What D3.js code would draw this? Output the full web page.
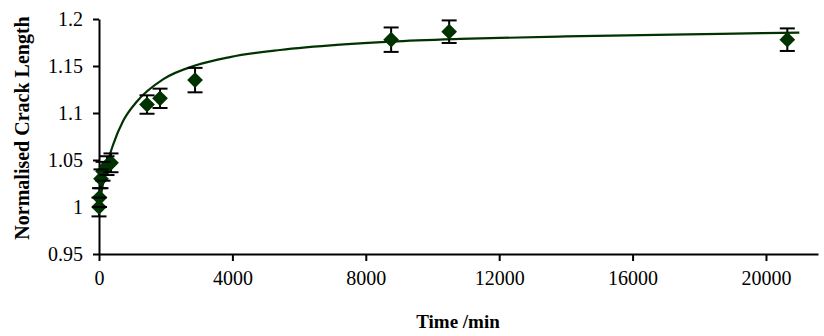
<!DOCTYPE html>
<html>
<head>
<meta charset="utf-8">
<script src="https://cdn.jsdelivr.net/npm/d3@7"></script>
<style>
  body { margin: 0; background: #fff; }
  text { font-family: "Liberation Serif", "Times New Roman", serif; fill: #000; }
</style>
</head>
<body>
<div id="chart"></div>
<script>
// measured points (time in minutes, normalised crack length, +/- error)
var times = [0, 15, 60, 120, 240, 360, 1440, 1830, 2880, 8760, 10500, 20640];
var lengths = [1.0, 1.01, 1.03, 1.038, 1.044, 1.047, 1.109, 1.1156, 1.135, 1.178, 1.1865, 1.178];
var errors = [0.01, 0.01, 0.01, 0.01, 0.01, 0.01, 0.0098, 0.0103, 0.013, 0.013, 0.012, 0.012];

// fitted trend line
var fitTimes = [0, 100, 280, 430, 730, 1130, 1930, 2930, 3930, 5430, 7230, 8760, 10830, 14000, 18630, 21000];
var fitLengths = [1.0, 1.021, 1.05, 1.067, 1.092, 1.112, 1.136, 1.151, 1.1595, 1.167, 1.1727, 1.176, 1.1788, 1.1815, 1.1842, 1.1855];

var xTicks = [0, 4000, 8000, 12000, 16000, 20000];
var yTicks = [0.95, 1, 1.05, 1.1, 1.15, 1.2];

var width = 824, height = 336;
var green = "#003300";

var svg = d3.select('#chart')
      .append('svg')
      .attr('width', width)
      .attr('height', height);

var x = d3.scaleLinear().domain([0, 21560]).range([99, 818]);
var y = d3.scaleLinear().domain([0.95, 1.2]).range([254, 19]);

//axes
var xAxis = svg.append('g')
      .attr('transform', 'translate(0,' + y(0.95) + ')')
      .call(d3.axisBottom(x).tickValues(xTicks).tickSize(7).tickSizeOuter(0).tickPadding(10)
            .tickFormat(d3.format('d')));
var yAxis = svg.append('g')
      .attr('transform', 'translate(' + x(0) + ',0)')
      .call(d3.axisLeft(y).tickValues(yTicks).tickSize(6).tickSizeOuter(0).tickPadding(10)
            .tickFormat(function (d) { return String(+d.toFixed(2)); }));

[xAxis, yAxis].forEach(function (ax) {
      ax.attr('font-family', null).attr('font-size', null);
      ax.select('.domain').attr('stroke', '#000').attr('stroke-width', 2);
      ax.selectAll('.tick line').attr('stroke', '#000').attr('stroke-width', 2);
      ax.selectAll('.tick text')
            .style('font-family', '"Liberation Serif", "Times New Roman", serif')
            .style('font-size', '20px')
            .attr('fill', '#000');
});

//axis titles
svg.append('text')
      .attr('x', 458)
      .attr('y', 328)
      .attr('text-anchor', 'middle')
      .style('font-size', '19px')
      .style('font-weight', 'bold')
      .text('Time /min');
svg.append('text')
      .attr('transform', 'translate(29,128) rotate(-90)')
      .attr('text-anchor', 'middle')
      .style('font-size', '20px')
      .style('font-weight', 'bold')
      .text('Normalised Crack Length');

//trend line
var fit = fitTimes.map(function (t, i) { return [t, fitLengths[i]]; });
svg.append('path')
      .datum(fit)
      .attr('fill', 'none')
      .attr('stroke', green)
      .attr('stroke-width', 2.2)
      .attr('d', d3.line()
            .x(function (d) { return x(d[0]); })
            .y(function (d) { return y(d[1]); })
            .curve(d3.curveMonotoneX));

var pts = times.map(function (t, i) { return { t: t, v: lengths[i], e: errors[i] }; });

//error bar stems
svg.append('g').selectAll('line')
      .data(pts)
      .enter().append('line')
      .attr('x1', function (d) { return x(d.t); })
      .attr('x2', function (d) { return x(d.t); })
      .attr('y1', function (d) { return y(d.v - d.e); })
      .attr('y2', function (d) { return y(d.v + d.e); })
      .attr('stroke', '#000')
      .attr('stroke-width', 2);

//diamond markers
var diamond = d3.symbol().type(d3.symbolSquare).size(124);
svg.append('g').selectAll('path')
      .data(pts)
      .enter().append('path')
      .attr('d', diamond)
      .attr('transform', function (d) { return 'translate(' + x(d.t) + ',' + y(d.v) + ') rotate(45)'; })
      .attr('fill', green);

//error bar caps
var caps = svg.append('g');
pts.forEach(function (d) {
      [d.v - d.e, d.v + d.e].forEach(function (v) {
            caps.append('line')
                  .attr('x1', x(d.t) - 7.5)
                  .attr('x2', x(d.t) + 7.5)
                  .attr('y1', y(v))
                  .attr('y2', y(v))
                  .attr('stroke', '#000')
                  .attr('stroke-width', 2);
      });
});
</script>
</body>
</html>
